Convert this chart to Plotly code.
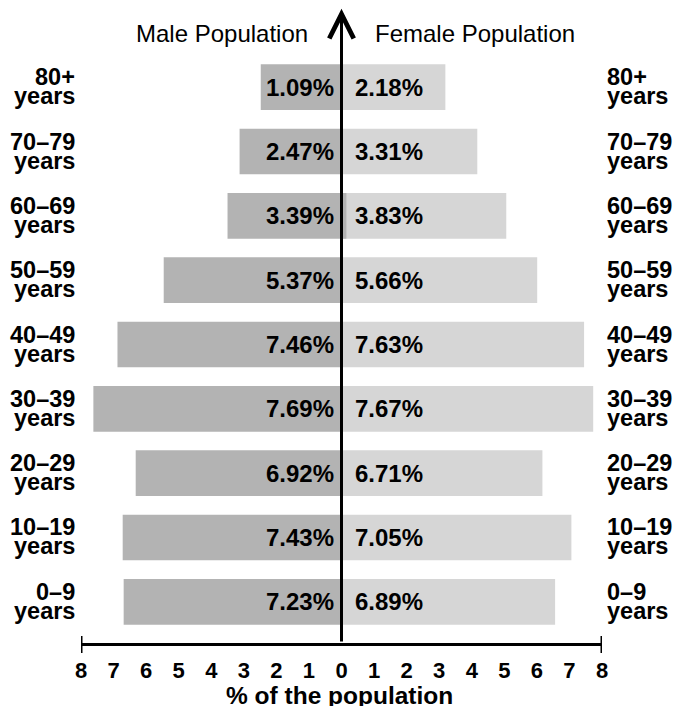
import plotly.graph_objects as go

# Age groups, bottom to top
categories = ["0–9", "10–19", "20–29", "30–39", "40–49", "50–59", "60–69", "70–79", "80+"]

# Bar lengths as drawn
male_len = [6.69, 6.72, 6.32, 7.62, 6.88, 5.46, 3.50, 3.13, 2.48]
female_len = [6.56, 7.06, 6.17, 7.73, 7.45, 6.01, 5.06, 4.17, 3.19]
# small overhang of the male bar past the centre line
male_overhang = [0, 0, 0, 0, 0, 0, 0.15, 0, 0]

# Printed labels
male_labels = ["7.23%", "7.43%", "6.92%", "7.69%", "7.46%", "5.37%", "3.39%", "2.47%", "1.09%"]
female_labels = ["6.89%", "7.05%", "6.71%", "7.67%", "7.63%", "5.66%", "3.83%", "3.31%", "2.18%"]

tick_vals = list(range(-8, 9))
tick_text = [str(abs(v)) for v in tick_vals]

FONT = "Liberation Sans, Arial, Helvetica, sans-serif"
MALE_C = "#b3b3b3"
FEMALE_C = "#d6d6d6"

PLOT_H = 588  # plot-area height in px

fig = go.Figure()
fig.add_trace(go.Bar(
    y=categories, x=female_len, orientation="h", width=0.71,
    marker=dict(color=FEMALE_C, line=dict(width=0)), hoverinfo="skip",
))
fig.add_trace(go.Bar(
    y=categories, x=[-(m + o) for m, o in zip(male_len, male_overhang)],
    base=male_overhang, orientation="h", width=0.71,
    marker=dict(color=MALE_C, line=dict(width=0)), hoverinfo="skip",
))

ann = []
for cat, ml, fl in zip(categories, male_labels, female_labels):
    ann.append(dict(x=0, y=cat, xref="x", yref="y", text=ml, showarrow=False,
                    xanchor="right", yanchor="middle", xshift=-6,
                    font=dict(family=FONT, size=24, color="black", weight="bold")))
    ann.append(dict(x=0, y=cat, xref="x", yref="y", text=fl, showarrow=False,
                    xanchor="left", yanchor="middle", xshift=11,
                    font=dict(family=FONT, size=24, color="black", weight="bold")))
    for side in ("left", "right"):
        xv = -8 if side == "left" else 8
        anchor = "right" if side == "left" else "left"
        shift = -4 if side == "left" else 3
        ann.append(dict(x=xv, y=cat, xref="x", yref="y", text=cat, showarrow=False,
                        xanchor=anchor, yanchor="middle", xshift=shift, yshift=10,
                        font=dict(family=FONT, size=23.5, color="black", weight="bold")))
        ann.append(dict(x=xv, y=cat, xref="x", yref="y", text="years", showarrow=False,
                        xanchor=anchor, yanchor="middle", xshift=shift, yshift=-9,
                        font=dict(family=FONT, size=23.5, color="black", weight="bold")))

# Headers
ann.append(dict(x=0, y=1 + 22 / PLOT_H, xref="x", yref="paper", text="Male Population",
                showarrow=False, xanchor="right", yanchor="middle", xshift=-32,
                font=dict(family=FONT, size=24, color="black")))
ann.append(dict(x=0, y=1 + 22 / PLOT_H, xref="x", yref="paper", text="Female Population",
                showarrow=False, xanchor="left", yanchor="middle", xshift=31,
                font=dict(family=FONT, size=24, color="black")))

# Axis title
ann.append(dict(x=0, y=-52 / PLOT_H, xref="x", yref="paper", text="% of the population",
                showarrow=False, xanchor="center", yanchor="middle", xshift=-2,
                font=dict(family=FONT, size=24.5, color="black", weight="bold")))

# Vertical arrow along the centre
ann.append(dict(x=0, y=9.22, xref="x", yref="y", ax=0, ay=-0.64, axref="x", ayref="y",
                text="", showarrow=True, arrowhead=5, arrowsize=1.6, arrowwidth=3,
                arrowcolor="black", standoff=0, startstandoff=0))

shapes = []
for xv in (-8, 8):
    shapes.append(dict(type="line", xref="x", yref="paper", x0=xv, x1=xv,
                       y0=-10 / PLOT_H, y1=7 / PLOT_H, line=dict(color="black", width=3)))

fig.update_layout(
    width=676, height=706,
    margin=dict(l=81, r=74, t=55, b=63),
    paper_bgcolor="white", plot_bgcolor="white",
    barmode="overlay", showlegend=False, hovermode=False,
    annotations=ann, shapes=shapes,
    xaxis=dict(range=[-8, 8], tickvals=tick_vals, ticktext=tick_text,
               showgrid=False, zeroline=False, showline=True, linecolor="black", linewidth=3,
               ticks="", ticklabelstandoff=6, fixedrange=True,
               tickfont=dict(family=FONT, size=22, color="black", weight="bold")),
    yaxis=dict(type="category", categoryorder="array", categoryarray=categories,
               range=[-0.64, 8.5], showticklabels=False, showgrid=False, zeroline=False,
               showline=False, ticks="", fixedrange=True),
)

# remove the default page margin so the figure fills the window exactly
fig.write_html(
    "out.html",
    config={"displayModeBar": False, "staticPlot": True},
    post_script="document.body.style.margin='0';document.body.style.overflow='hidden';",
)
